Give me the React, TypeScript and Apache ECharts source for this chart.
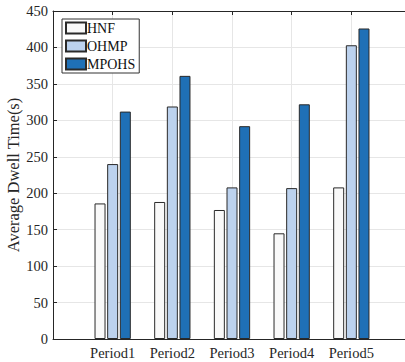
import React, { useEffect, useRef } from "react";
import * as echarts from "echarts";

const categories = ["Period1", "Period2", "Period3", "Period4", "Period5"];
const hnf = [186, 188, 177, 145, 208];
const ohmp = [240, 319, 208, 207, 403];
const mpohs = [312, 361, 292, 322, 426];
const seriesNames = ["HNF", "OHMP", "MPOHS"];
const seriesColors = ["#f9f9f9", "#bcd2ee", "#1f70b6"];

const FONT = "'Liberation Serif', 'Times New Roman', serif";

export default function App() {
  const ref = useRef<HTMLDivElement>(null);
  useEffect(() => {
    if (!ref.current) return;
    const chart = echarts.init(ref.current, undefined, { renderer: "svg" });
    const values = [hnf, ohmp, mpohs];
    const series = values.map((vals, i) => ({
      name: seriesNames[i],
      type: "bar" as const,
      xAxisIndex: 0,
      barWidth: 11,
      barGap: "15%",
      data: vals.map((v, j) => [j + 1, v]),
      itemStyle: { color: seriesColors[i], borderColor: "#2a2a2a", borderWidth: 1 },
    }));
    chart.setOption({
      animation: false,
      backgroundColor: "#ffffff",
      textStyle: { fontFamily: FONT },
      grid: { left: 53, top: 11, width: 358, height: 328, outerBoundsMode: "none", containLabel: false },
      legend: {
        orient: "vertical",
        left: 62,
        top: 19,
        backgroundColor: "#ffffff",
        borderColor: "#333",
        borderWidth: 1,
        borderRadius: 0,
        padding: [2, 4, 2, 3],
        itemWidth: 20,
        itemHeight: 11,
        itemGap: 4,
        icon: "rect",
        textStyle: { fontFamily: FONT, fontSize: 14, color: "#111", padding: [0, 0, 0, -4] },
        data: seriesNames,
      },
      xAxis: [
        {
          type: "value",
          min: 0,
          max: 6,
          interval: 1,
          position: "bottom",
          axisLine: { lineStyle: { color: "#262626", width: 1 } },
          axisTick: { show: false },
          splitLine: { show: true, lineStyle: { color: "#e6e6e6", width: 1 } },
          axisLabel: {
            fontFamily: FONT,
            fontSize: 14.5,
            color: "#262626",
            margin: 6,
            formatter: (v: number) => categories[v - 1] ?? "",
          },
        },
        {
          type: "value",
          min: 0,
          max: 6,
          interval: 1,
          position: "top",
          axisLine: { show: true, lineStyle: { color: "#262626", width: 1 } },
          axisTick: { show: true, inside: true, length: 4, lineStyle: { color: "#262626" } },
          splitLine: { show: false },
          axisLabel: { show: false },
        },
      ],
      yAxis: [
        {
          type: "value",
          min: 0,
          max: 450,
          interval: 50,
          name: "Average Dwell Time(s)",
          nameLocation: "middle",
          nameGap: 31,
          nameMoveOverlap: false,
          nameTextStyle: { fontFamily: FONT, fontSize: 16.5, color: "#262626" },
          axisLine: { show: true, lineStyle: { color: "#262626", width: 1 } },
          axisTick: { show: true, inside: true, length: 4, lineStyle: { color: "#262626" } },
          splitLine: { show: true, lineStyle: { color: "#e6e6e6", width: 1 } },
          axisLabel: { fontFamily: FONT, fontSize: 14.5, color: "#262626", margin: 5 },
        },
      ],
      series,
    });
    return () => chart.dispose();
  }, []);
  return <div ref={ref} style={{ width: 405, height: 362, position: "absolute", left: 0, top: 0 }} />;
}
